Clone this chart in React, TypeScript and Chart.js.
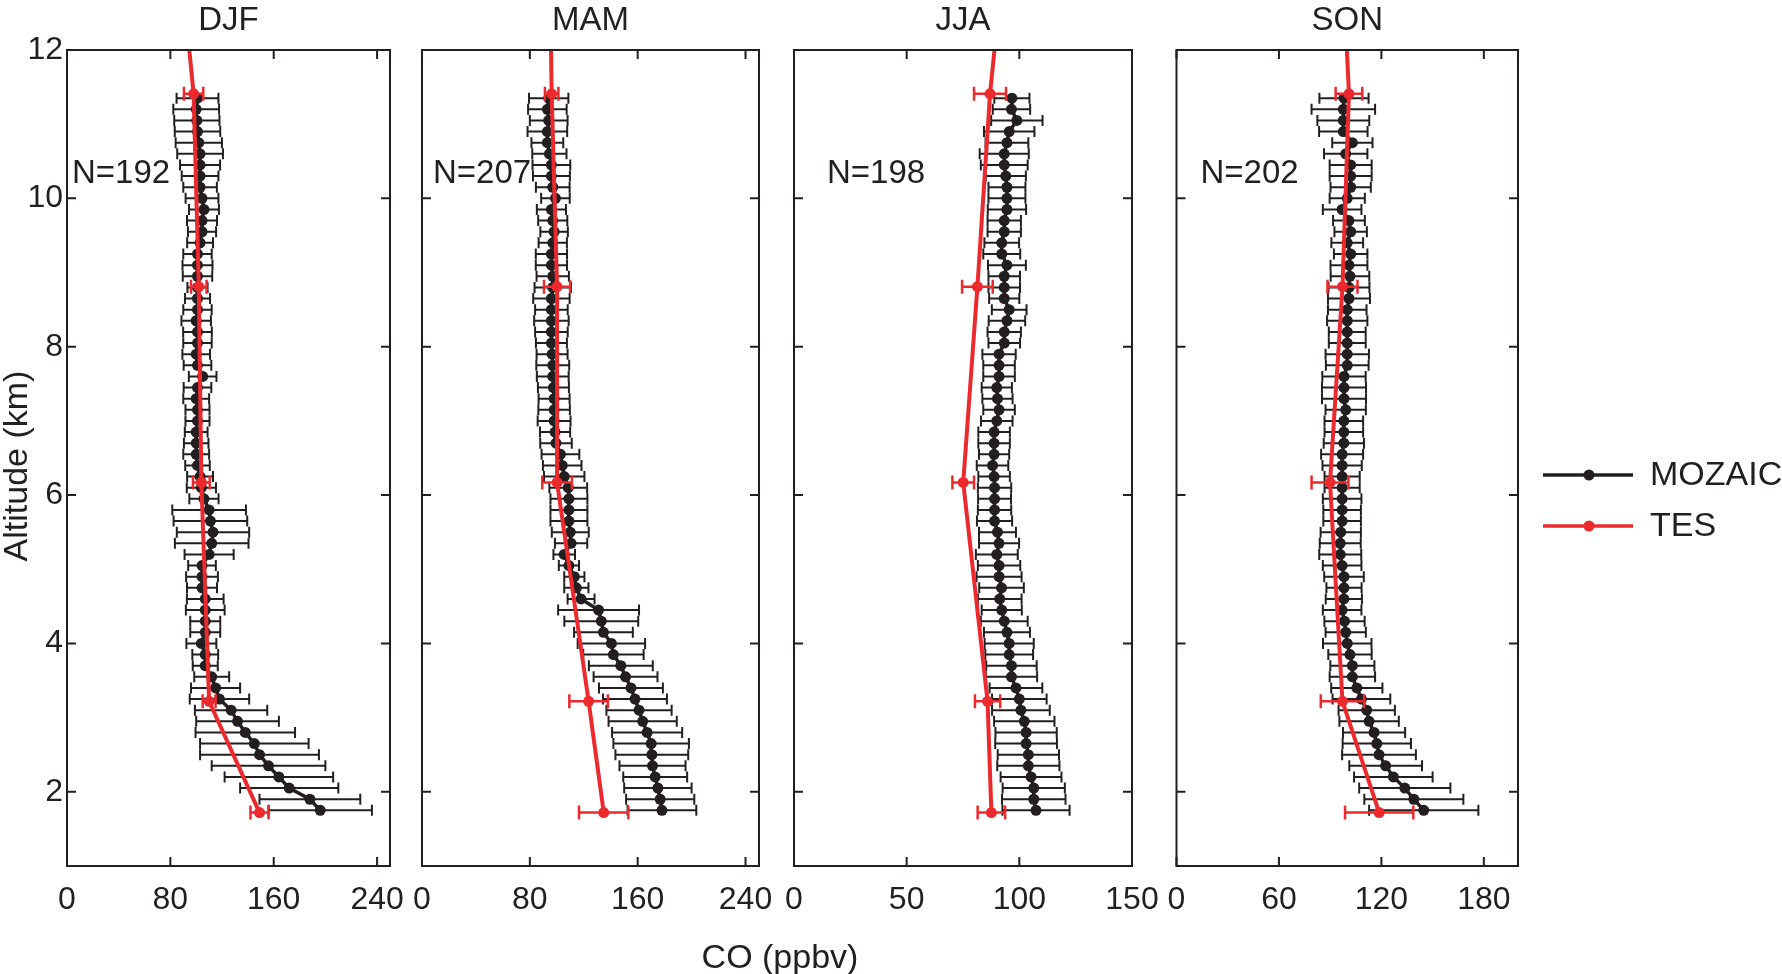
import React, { useEffect, useRef } from 'react';
import { Chart, registerables } from 'chart.js';

Chart.register(...registerables);

const FONT = '"Liberation Sans", Arial, Helvetica, sans-serif';
const BLACK = '#231f20';
const RED = '#ec2a2e';

// Altitude levels of the MOZAIC profiles (km)
const ALT = [
  1.75, 1.9, 2.05, 2.2, 2.35, 2.5, 2.65, 2.8, 2.95, 3.1,
  3.25, 3.4, 3.55, 3.7, 3.85, 4.0, 4.15, 4.3, 4.45, 4.6,
  4.75, 4.9, 5.05, 5.2, 5.35, 5.5, 5.65, 5.8, 5.95, 6.1,
  6.25, 6.4, 6.55, 6.7, 6.85, 7.0, 7.15, 7.3, 7.45, 7.6,
  7.75, 7.9, 8.05, 8.2, 8.35, 8.5, 8.65, 8.8, 8.95, 9.1,
  9.25, 9.4, 9.55, 9.7, 9.85, 10.0, 10.15, 10.3, 10.45, 10.6,
  10.75, 10.9, 11.05, 11.2, 11.35,
];

// TES retrieval levels (km); the last one lies above the plotted range
const TES_ALT = [1.72, 3.22, 6.17, 8.81, 11.41, 13.0];

const Y_TICKS = [2, 4, 6, 8, 10, 12];

// ---- DJF ----
const DJF_MOZ = [
  196, 188, 172, 164, 156, 149, 145, 138, 132, 127,
  118, 115, 112, 107, 107, 104, 107, 107, 107, 107,
  104.5, 104.5, 104.5, 110, 112, 113, 111, 110, 106, 104,
  103, 101, 100, 100, 100, 101, 101, 100, 101, 105,
  101, 100, 101, 101, 100, 101, 101, 101, 101, 101,
  101, 103, 104.5, 104.5, 106, 104.5, 103, 103, 103, 103,
  102, 101, 100.5, 100, 101,
];
const DJF_SD = [
  40, 39, 38, 42, 44, 46, 42, 38.5, 32, 28,
  23, 19, 13.5, 9.7, 10, 11.6, 11.6, 11.6, 15, 14.2,
  11.6, 12.3, 10.7, 19, 28.5, 28, 28.5, 28.5, 11.3, 11.3,
  10, 9.5, 10, 9.5, 8.8, 9.3, 9.3, 10, 10.7, 10.7,
  10.7, 10.7, 11, 11.1, 11.4, 11, 9.7, 7.8, 11.4, 11.6,
  11, 10, 10.9, 11.6, 11.6, 12.7, 13, 14.2, 15.5, 17.7,
  17.9, 17.6, 17.5, 17.7, 16.2,
];
const DJF_TES = [149, 110, 104, 102, 98, 89];
const DJF_TES_ERR = [7, 5, 6.5, 6, 7.5];

// ---- MAM ----
const MAM_MOZ = [
  178, 176.7, 175, 173, 171, 170.5, 170, 167, 163.7, 161,
  158, 155, 151, 147.5, 142, 140.5, 134.6, 133, 131, 118,
  114.5, 113, 109, 105.5, 110.6, 110, 109, 109, 109, 108.5,
  105.5, 104, 102.7, 99.4, 98.7, 98, 98, 98, 97.5, 97,
  97, 96.5, 96, 96, 96, 96, 96, 97, 97, 96,
  96, 97, 98, 97, 96, 99, 97, 96, 96, 94.5,
  93, 93, 94, 93, 94,
];
const MAM_SD = [
  25.5, 25.3, 25, 23.7, 24.5, 27, 28, 26, 25.3, 24.2,
  23.7, 23.7, 23.7, 23.7, 22.4, 25, 21.8, 27.4, 30, 10,
  9, 7.5, 7.5, 8, 12, 13.7, 13.7, 13.7, 13.7, 14,
  15, 14.3, 14, 11.7, 11.2, 12.2, 11.7, 11.5, 11.5, 11.8,
  12.2, 11.5, 11.5, 12.1, 12.8, 12.1, 13.5, 13.5, 12, 11.6,
  11.6, 10.5, 10.2, 10.8, 10.8, 10.6, 12.5, 13.7, 14, 12.7,
  11.8, 14.7, 14, 14.3, 14.6,
];
const MAM_TES = [134.8, 123.6, 100.2, 100.2, 96.2, 94.9];
const MAM_TES_ERR = [18.3, 14.3, 11, 9.7, 5];

// ---- JJA ----
const JJA_MOZ = [
  107.4, 106.4, 106.4, 105.2, 104, 104, 103, 103, 102.2, 100.7,
  100, 98.5, 96.5, 96.5, 95.5, 95.5, 94.5, 93.3, 92.2, 91.3,
  92.1, 91, 91, 90, 91, 90.3, 89, 89, 89, 89,
  88.8, 88.1, 88.8, 88.8, 88.8, 90, 91, 90.3, 90, 91,
  91, 91, 93.3, 93.3, 94.5, 95.5, 93.3, 93.3, 93.3, 94.5,
  92.2, 92.2, 93.3, 93.3, 94.5, 94.5, 94.5, 94, 93.3, 93.3,
  94.5, 95.5, 98.9, 96.5, 96.7,
];
const JJA_SD = [
  14.9, 14.1, 13.8, 13.5, 13.8, 13.6, 13.7, 13.6, 13.4, 12.8,
  12.1, 11.7, 11.4, 11.2, 10.6, 10.9, 10.2, 10.4, 8.9, 9.7,
  9.9, 10, 9.4, 9.3, 8.9, 8.2, 7.8, 7.4, 7.3, 7.4,
  7, 7, 6.7, 7, 7, 7, 7, 6.7, 6.7, 7,
  7, 7.4, 7, 7.4, 8.1, 7.7, 6.7, 7, 7, 8.4,
  8.2, 7.7, 7.4, 7.4, 8.5, 8.2, 8.2, 8.9, 10.4, 10.9,
  9.5, 11.2, 11.4, 8.3, 7.8,
];
const JJA_TES = [87.6, 85.9, 75.1, 81.4, 87, 92.3];
const JJA_TES_ERR = [6.1, 5.6, 4.8, 6.8, 7.1];

// ---- SON ----
const SON_MOZ = [
  144.8, 139, 133.7, 127, 122.5, 118.6, 117.3, 115.7, 112.8, 111.4,
  108.3, 105.6, 103, 103, 101.6, 100, 99.1, 98.4, 97, 98,
  98.1, 98.1, 97, 95.9, 95.9, 96.2, 97, 97, 97, 97,
  97, 97, 97, 98, 98, 98, 99.1, 98.1, 98.1, 98.1,
  100, 100, 100, 100, 100, 100, 101, 101, 101.6, 101,
  102, 100, 102, 101, 97, 100, 102, 102, 102, 99.1,
  103, 97.7, 97.7, 97.7, 98.1,
];
const SON_SD = [
  32, 29, 26.7, 23, 21.3, 21.6, 20, 18.2, 17.4, 16.5,
  16.9, 15, 13.3, 12.9, 12.7, 14.2, 11.8, 11.8, 11.3, 10.6,
  10.3, 11.6, 11.3, 12.3, 12, 11.8, 11, 11, 11.3, 10.3,
  10.3, 11.5, 12.3, 11.8, 11.3, 11.3, 11.8, 12.9, 12.9, 12.7,
  12.5, 12.7, 10.8, 10.8, 11.8, 11.3, 12.3, 12, 11.3, 10.8,
  9.8, 9.3, 9.5, 9.3, 11.3, 10.3, 11.8, 12.3, 12.3, 12.7,
  11.8, 14.2, 15.2, 18.6, 14.4,
];
const SON_TES = [118.7, 97.2, 89.9, 97.2, 101, 97.7];
const SON_TES_ERR = [20, 12.7, 10.8, 8.8, 7.8];

const TITLES = ['DJF', 'MAM', 'JJA', 'SON'];
const N_LABELS = ['N=192', 'N=207', 'N=198', 'N=202'];
const X_MAX = [250, 250, 150, 200];
const X_TICKS = [
  [0, 80, 160, 240],
  [0, 80, 160, 240],
  [0, 50, 100, 150],
  [0, 60, 120, 180],
];
const LEGEND_LABELS = ['MOZAIC', 'TES'];

// layout (pixels) of each panel's plotting box
const PANEL_LEFT = [67, 422, 794, 1176.5];
const PANEL_RIGHT = [390, 759, 1132, 1518];
const N_OFFSET = [5, 11, 33, 24];
const W = 1782;
const H = 974;
const AREA_TOP = 50;
const AREA_BOTTOM = 866;
const Y_AXIS_W = 60;
const X_AXIS_H = 60;

type PanelCfg = {
  idx: number;
  moz: number[];
  sd: number[];
  tes: number[];
  tesErr: number[];
};

const PANELS: PanelCfg[] = [
  { idx: 0, moz: DJF_MOZ, sd: DJF_SD, tes: DJF_TES, tesErr: DJF_TES_ERR },
  { idx: 1, moz: MAM_MOZ, sd: MAM_SD, tes: MAM_TES, tesErr: MAM_TES_ERR },
  { idx: 2, moz: JJA_MOZ, sd: JJA_SD, tes: JJA_TES, tesErr: JJA_TES_ERR },
  { idx: 3, moz: SON_MOZ, sd: SON_SD, tes: SON_TES, tesErr: SON_TES_ERR },
];

function hBar(ctx: CanvasRenderingContext2D, x1: number, x2: number, y: number, cap: number) {
  ctx.beginPath();
  ctx.moveTo(x1, y);
  ctx.lineTo(x2, y);
  ctx.moveTo(x1, y - cap);
  ctx.lineTo(x1, y + cap);
  ctx.moveTo(x2, y - cap);
  ctx.lineTo(x2, y + cap);
  ctx.stroke();
}

function makePlugin(p: PanelCfg) {
  return {
    id: 'profileDecor' + p.idx,
    beforeDatasetsDraw(chart: any) {
      const { ctx } = chart;
      const xs = chart.scales.x;
      const ys = chart.scales.y;
      ctx.save();
      ctx.strokeStyle = BLACK;
      ctx.lineWidth = 2;
      ALT.forEach((a, i) => {
        const y = ys.getPixelForValue(a);
        const x1 = xs.getPixelForValue(p.moz[i] - p.sd[i]);
        const x2 = xs.getPixelForValue(p.moz[i] + p.sd[i]);
        hBar(ctx, x1, x2, y, 5.5);
      });
      ctx.restore();
    },
    afterDatasetsDraw(chart: any) {
      const { ctx, chartArea } = chart;
      const xs = chart.scales.x;
      const ys = chart.scales.y;
      ctx.save();
      // TES error bars
      ctx.strokeStyle = RED;
      ctx.lineWidth = 2.5;
      p.tesErr.forEach((e, i) => {
        const y = ys.getPixelForValue(TES_ALT[i]);
        const x1 = xs.getPixelForValue(p.tes[i] - e);
        const x2 = xs.getPixelForValue(p.tes[i] + e);
        hBar(ctx, x1, x2, y, 7);
      });
      // frame
      ctx.strokeStyle = BLACK;
      ctx.lineWidth = 2;
      const { left, right, top, bottom } = chartArea;
      ctx.strokeRect(left, top, right - left, bottom - top);
      // inward tick marks
      const TL = 9;
      ctx.beginPath();
      X_TICKS[p.idx].forEach((v) => {
        const x = xs.getPixelForValue(v);
        ctx.moveTo(x, bottom);
        ctx.lineTo(x, bottom - TL);
        ctx.moveTo(x, top);
        ctx.lineTo(x, top + TL);
      });
      Y_TICKS.forEach((v) => {
        const y = ys.getPixelForValue(v);
        ctx.moveTo(left, y);
        ctx.lineTo(left + TL, y);
        ctx.moveTo(right, y);
        ctx.lineTo(right - TL, y);
      });
      ctx.stroke();
      // title and sample size
      ctx.fillStyle = BLACK;
      ctx.font = `33px ${FONT}`;
      ctx.textBaseline = 'alphabetic';
      ctx.textAlign = 'center';
      ctx.fillText(TITLES[p.idx], (left + right) / 2, 30);
      ctx.textAlign = 'left';
      ctx.fillText(N_LABELS[p.idx], left + N_OFFSET[p.idx], 183);

      if (p.idx === 0) {
        ctx.font = `34px ${FONT}`;
        ctx.textAlign = 'center';
        ctx.fillText('CO (ppbv)', 780, 968);
        ctx.save();
        ctx.translate(27, 466);
        ctx.rotate(-Math.PI / 2);
        ctx.fillText('Altitude (km)', 0, 0);
        ctx.restore();
      }
      if (p.idx === 3) {
        // legend
        const items = [
          { label: LEGEND_LABELS[0], color: BLACK, y: 475, w: 3.5 },
          { label: LEGEND_LABELS[1], color: RED, y: 526, w: 3.5 },
        ];
        items.forEach((it) => {
          ctx.strokeStyle = it.color;
          ctx.fillStyle = it.color;
          ctx.lineWidth = it.w;
          ctx.beginPath();
          ctx.moveTo(1543, it.y);
          ctx.lineTo(1633, it.y);
          ctx.stroke();
          ctx.beginPath();
          ctx.arc(1589, it.y, 5.5, 0, Math.PI * 2);
          ctx.fill();
          ctx.fillStyle = BLACK;
          ctx.font = `34px ${FONT}`;
          ctx.textAlign = 'left';
          ctx.textBaseline = 'middle';
          ctx.fillText(it.label, 1650, it.y + 1);
        });
      }
      ctx.restore();
    },
  };
}

function Panel({ p }: { p: PanelCfg }) {
  const ref = useRef<HTMLCanvasElement | null>(null);
  useEffect(() => {
    if (!ref.current) return;
    const i = p.idx;
    const chart = new Chart(ref.current, {
      type: 'scatter',
      data: {
        datasets: [
          {
            label: 'TES',
            data: TES_ALT.map((a, k) => ({ x: p.tes[k], y: a })),
            showLine: true,
            borderColor: RED,
            backgroundColor: RED,
            borderWidth: 4,
            pointRadius: TES_ALT.map((a) => (a > 12 ? 0 : 5.5)),
            pointBorderWidth: 0,
            clip: 1,
            order: 0,
          },
          {
            label: 'MOZAIC',
            data: ALT.map((a, k) => ({ x: p.moz[k], y: a })),
            showLine: true,
            borderColor: BLACK,
            backgroundColor: BLACK,
            borderWidth: 3.5,
            pointRadius: 5.5,
            pointBorderWidth: 0,
            order: 1,
          },
        ],
      } as any,
      options: {
        animation: false,
        responsive: false,
        devicePixelRatio: 1,
        layout: {
          autoPadding: false,
          padding: {
            left: PANEL_LEFT[i] - Y_AXIS_W,
            right: W - PANEL_RIGHT[i],
            top: AREA_TOP,
            bottom: H - AREA_BOTTOM - X_AXIS_H,
          },
        },
        plugins: {
          legend: { display: false },
          tooltip: { enabled: false },
          title: { display: false },
        },
        events: [],
        scales: {
          x: {
            type: 'linear',
            min: 0,
            max: X_MAX[i],
            afterBuildTicks: (s: any) => {
              s.ticks = X_TICKS[i].map((v) => ({ value: v }));
            },
            afterFit: (s: any) => {
              s.height = X_AXIS_H;
            },
            ticks: {
              font: { size: 32, family: FONT },
              color: BLACK,
              padding: 15,
              maxRotation: 0,
              autoSkip: false,
            },
            grid: { display: false, drawTicks: false },
            border: { display: false },
          },
          y: {
            type: 'linear',
            min: 1,
            max: 12,
            afterBuildTicks: (s: any) => {
              s.ticks = Y_TICKS.map((v) => ({ value: v }));
            },
            afterFit: (s: any) => {
              s.width = Y_AXIS_W;
            },
            ticks: {
              display: i === 0,
              font: { size: 32, family: FONT },
              color: BLACK,
              padding: 4,
              autoSkip: false,
            },
            grid: { display: false, drawTicks: false },
            border: { display: false },
          },
        },
      } as any,
      plugins: [makePlugin(p)],
    });
    return () => chart.destroy();
  }, [p]);
  return (
    <canvas
      ref={ref}
      width={W}
      height={H}
      style={{ position: 'absolute', left: 0, top: 0, width: W, height: H }}
    />
  );
}

export default function App() {
  return (
    <div
      style={{
        position: 'absolute',
        left: 0,
        top: 0,
        width: W,
        height: H,
        background: '#ffffff',
        overflow: 'hidden',
      }}
    >
      {PANELS.map((p) => (
        <Panel key={p.idx} p={p} />
      ))}
    </div>
  );
}
